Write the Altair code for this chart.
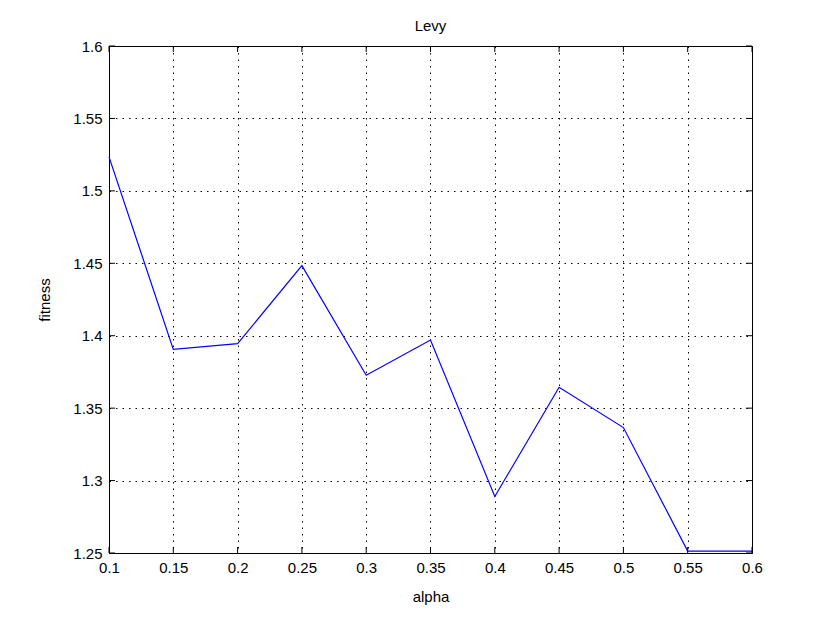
import altair as alt
import pandas as pd

alpha = [0.1, 0.15, 0.2, 0.25, 0.3, 0.35, 0.4, 0.45, 0.5, 0.55, 0.6]
fitness = [1.5235, 1.3906, 1.3945, 1.4484, 1.3727, 1.397, 1.289, 1.3644, 1.3366, 1.2513, 1.2513]
x_ticks = [0.1, 0.15, 0.2, 0.25, 0.3, 0.35, 0.4, 0.45, 0.5, 0.55, 0.6]
y_ticks = [1.25, 1.3, 1.35, 1.4, 1.45, 1.5, 1.55, 1.6]

W, H = 643, 507
FONT = "Liberation Sans"

df = pd.DataFrame({"alpha": alpha, "fitness": fitness})
xt = pd.DataFrame({"x": x_ticks})
yt = pd.DataFrame({"y": y_ticks})

xs = alt.Scale(domain=[0.1, 0.6], nice=False, zero=False)
ys = alt.Scale(domain=[1.25, 1.6], nice=False, zero=False)

line = alt.Chart(df).mark_line(color="#0000ff", strokeWidth=1.2).encode(
    x=alt.X("alpha:Q", scale=xs, title="alpha",
            axis=alt.Axis(values=x_ticks, format="~g", grid=True, tickSize=0,
                          labelFlush=False, labelPadding=7, titlePadding=14)),
    y=alt.Y("fitness:Q", scale=ys, title="fitness",
            axis=alt.Axis(values=y_ticks, format="~g", grid=True, tickSize=0,
                          labelFlush=False, labelPadding=7, titlePadding=20)),
)

tick_len = 6
xtop = alt.Chart(xt).mark_rule(color="black").encode(
    x=alt.X("x:Q", scale=xs), y=alt.value(0), y2=alt.value(tick_len))
xbot = alt.Chart(xt).mark_rule(color="black").encode(
    x=alt.X("x:Q", scale=xs), y=alt.value(H - tick_len), y2=alt.value(H))
yleft = alt.Chart(yt).mark_rule(color="black").encode(
    y=alt.Y("y:Q", scale=ys), x=alt.value(0), x2=alt.value(tick_len))
yright = alt.Chart(yt).mark_rule(color="black").encode(
    y=alt.Y("y:Q", scale=ys), x=alt.value(W - tick_len), x2=alt.value(W))

chart = alt.layer(line, xtop, xbot, yleft, yright).properties(
    width=W, height=H,
    background="white",
    title=alt.TitleParams("Levy", fontSize=15, font=FONT, fontWeight="normal",
                          offset=5, color="black"),
    autosize=alt.AutoSizeParams(type="none"),
    padding={"left": 101, "top": 38, "right": 70, "bottom": 60},
).configure_axis(
    gridColor="black", gridDash=[1.5, 5], gridOpacity=1, gridWidth=1,
    domainColor="black", domainWidth=1,
    labelFont=FONT, labelFontSize=15, labelColor="black",
    titleFont=FONT, titleFontSize=15, titleFontWeight="normal", titleColor="black",
).configure_view(stroke="black", strokeWidth=1)

chart.save("out.html", embed_options={"renderer": "svg", "actions": False})
